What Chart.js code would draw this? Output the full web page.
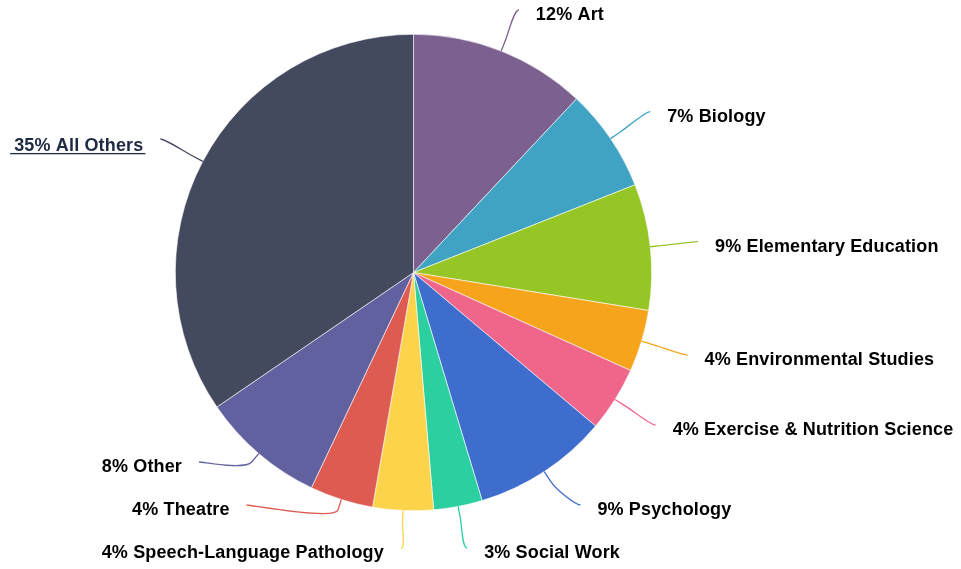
<!DOCTYPE html>
<html lang="en">
<head>
    <meta charset="UTF-8">
    <title>Majors</title>
    <script src="https://cdn.jsdelivr.net/npm/chart.js"></script>
    <style>
        html, body { margin: 0; padding: 0; background: #fff; }
        .chart-box { width: 961px; height: 569px; position: relative; }
    </style>
</head>
<body>
<div class="chart-box">
    <canvas id="majorsChart" width="961" height="569"></canvas>
</div>

<script>
    const majors = ["Art", "Biology", "Elementary Education", "Environmental Studies",
        "Exercise & Nutrition Science", "Psychology", "Social Work",
        "Speech-Language Pathology", "Theatre", "Other", "All Others"];
    const shares = [12, 7, 8.55, 4.2, 4.4, 9.2, 3.3, 4.1, 4.3, 8.4, 34.55];
    const colors = ["#7c6190", "#40a3c4", "#95c626", "#f5a41c", "#f0658a", "#3e6dce",
        "#2bcfa0", "#fcd44b", "#de5b52", "#6261a0", "#434a5e"];
    const linkLabel = "All Others";

    const total = shares.reduce((a, b) => a + b, 0);

    // highcharts-like outside labels with soft connectors
    const outsideLabels = {
        id: 'outsideLabels',
        afterDatasetsDraw(chart) {
            const ctx = chart.ctx;
            const arcs = chart.getDatasetMeta(0).data;
            const dist = 48, gap = 43, topY = 10, bottomY = 548, breakOff = 11;
            const items = arcs.map((arc, i) => {
                const p = arc.getProps(['x', 'y', 'startAngle', 'endAngle', 'outerRadius'], true);
                const a = (p.startAngle + p.endAngle) / 2;
                const R = p.outerRadius + dist;
                return {
                    i, a, cx: p.x, cy: p.y, r: p.outerRadius, R,
                    left: Math.cos(a) < 0,
                    ny: p.y + Math.sin(a) * R
                };
            });
            [true, false].forEach(side => {
                const list = items.filter(it => it.left === side).sort((a, b) => a.ny - b.ny);
                list.forEach(it => { it.y = Math.min(Math.max(it.ny, topY), bottomY); });
                for (let k = list.length - 2; k >= 0; k--) {
                    list[k].y = Math.min(list[k].y, list[k + 1].y - gap);
                }
                for (let k = 1; k < list.length; k++) {
                    list[k].y = Math.max(list[k].y, list[k - 1].y + gap);
                }
            });
            ctx.save();
            ctx.font = 'bold 18px "Liberation Sans", Arial, sans-serif';
            ctx.letterSpacing = '0.15px';
            items.forEach(it => {
                const useY = (it.y < topY + 2 || it.y > bottomY - 2) ? it.ny : it.y;
                const dy = Math.max(-it.R, Math.min(it.R, useY - it.cy));
                const dx = Math.sqrt(it.R * it.R - dy * dy);
                const lx = it.cx + (it.left ? -dx : dx);
                const ly = it.y;
                const tx = it.cx + Math.cos(it.a) * it.r;
                const ty = it.cy + Math.sin(it.a) * it.r;
                const bx = it.cx + Math.cos(it.a) * (it.r + breakOff);
                const by = it.cy + Math.sin(it.a) * (it.r + breakOff);

                ctx.beginPath();
                ctx.moveTo(lx, ly);
                ctx.bezierCurveTo(lx + (it.left ? 5 : -5), ly, 2 * bx - tx, 2 * by - ty, bx, by);
                ctx.lineTo(tx, ty);
                ctx.strokeStyle = colors[it.i];
                ctx.lineWidth = 1.3;
                ctx.stroke();

                const name = majors[it.i];
                const text = Math.round(shares[it.i] / total * 100) + '% ' + name;
                const textX = it.left ? lx - 17 : lx + 17;
                const isLink = name === linkLabel;
                const baseY = ly + (isLink ? 12 : 10);
                ctx.textAlign = it.left ? 'right' : 'left';
                ctx.textBaseline = 'alphabetic';
                ctx.fillStyle = isLink ? '#1e2a42' : '#000000';
                ctx.fillText(text, textX, baseY);
                if (isLink) {
                    const w = ctx.measureText(text).width;
                    ctx.fillRect(textX - w - 4, baseY + 2, w + 6, 1.3);
                }
            });
            ctx.restore();
        }
    };

    const ctx = document.getElementById('majorsChart').getContext('2d');
    const majorsChart = new Chart(ctx, {
        type: 'pie',
        data: {
            labels: majors,
            datasets: [{
                data: shares,
                backgroundColor: colors,
                borderColor: '#ffffff',
                borderWidth: 0.6,
                hoverOffset: 0
            }]
        },
        options: {
            responsive: false,
            animation: false,
            layout: { padding: { left: 175, right: 309, top: 34, bottom: 58 } },
            plugins: {
                legend: { display: false },
                tooltip: { enabled: false }
            }
        },
        plugins: [outsideLabels]
    });
</script>
</body>
</html>
